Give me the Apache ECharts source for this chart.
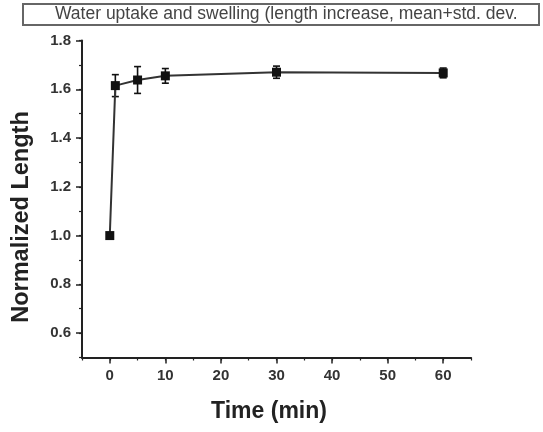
<!DOCTYPE html>
<html>
<head>
<meta charset="utf-8">
<script src="https://cdn.jsdelivr.net/npm/echarts@6/dist/echarts.min.js"></script>
<style>html,body{margin:0;padding:0;background:#fff}#c{width:543px;height:432px}</style>
</head>
<body>
<div id="c"></div>
<script>
const titleText = 'Water uptake and swelling (length increase, mean+std. dev.';
const xTitle = 'Time (min)';
const yTitle = 'Normalized Length';
const timeMin = [0, 1, 5, 10, 30, 60];
const lengthMean = [1.0, 1.615, 1.638, 1.655, 1.670, 1.667];
const lengthSd = [0, 0.045, 0.055, 0.03, 0.025, 0.02];
const xTickLabels = [0, 10, 20, 30, 40, 50, 60];
const yTickLabels = [0.6, 0.8, 1.0, 1.2, 1.4, 1.6, 1.8];

const chart = echarts.init(document.getElementById('c'), null, {renderer: 'canvas'});
const lineData = timeMin.map((t, i) => [t, lengthMean[i]]);
const errData = timeMin.map((t, i) => [t, lengthMean[i], lengthSd[i]]);
const font = 'Liberation Sans, Arial, Helvetica, sans-serif';
const axisColor = '#222';

chart.setOption({
  animation: false,
  backgroundColor: '#fff',
  grid: {left: 82, right: 72, top: 40.5, bottom: 74.5, containLabel: false, outerBoundsMode: 'none'},
  xAxis: [{
    type: 'value', min: -5, max: 65, interval: 5,
    axisLine: {show: true, onZero: false, lineStyle: {color: axisColor, width: 2}},
    axisTick: {show: true, length: 6, customValues: xTickLabels, lineStyle: {color: axisColor, width: 1.5}},
    axisLabel: {customValues: xTickLabels, fontSize: 15, fontWeight: 'bold', color: '#333', margin: 11, fontFamily: font},
    splitLine: {show: false}
  }, {
    type: 'value', min: -5, max: 65, interval: 5, position: 'bottom', offset: 0,
    axisLine: {show: false, onZero: false},
    axisTick: {show: true, length: 3, lineStyle: {color: axisColor, width: 1.2}},
    axisLabel: {show: false},
    splitLine: {show: false}
  }],
  yAxis: [{
    type: 'value', min: 0.5, max: 1.8, interval: 0.1,
    axisLine: {show: true, onZero: false, lineStyle: {color: axisColor, width: 2}},
    axisTick: {show: true, length: 6, customValues: yTickLabels, lineStyle: {color: axisColor, width: 1.5}},
    axisLabel: {customValues: yTickLabels, formatter: v => Number(v).toFixed(1), fontSize: 15, fontWeight: 'bold', color: '#333', margin: 11, fontFamily: font},
    splitLine: {show: false}
  }, {
    type: 'value', min: 0.5, max: 1.8, interval: 0.1, position: 'left', offset: 0,
    axisLine: {show: false, onZero: false},
    axisTick: {show: true, length: 3, lineStyle: {color: axisColor, width: 1.2}},
    axisLabel: {show: false},
    splitLine: {show: false}
  }],
  series: [{
    type: 'custom',
    xAxisIndex: 0, yAxisIndex: 0,
    z: 2,
    data: errData,
    renderItem: function (params, api) {
      const x = api.value(0), y = api.value(1), e = api.value(2);
      if (!e) return null;
      const top = api.coord([x, y + e]);
      const bot = api.coord([x, y - e]);
      const cap = 3.5;
      const st = {stroke: '#111', lineWidth: 1.6};
      return {type: 'group', children: [
        {type: 'line', shape: {x1: top[0], y1: top[1], x2: bot[0], y2: bot[1]}, style: st},
        {type: 'line', shape: {x1: top[0] - cap, y1: top[1], x2: top[0] + cap, y2: top[1]}, style: st},
        {type: 'line', shape: {x1: bot[0] - cap, y1: bot[1], x2: bot[0] + cap, y2: bot[1]}, style: st}
      ]};
    }
  }, {
    type: 'line',
    xAxisIndex: 0, yAxisIndex: 0,
    z: 3,
    data: lineData,
    symbol: 'rect', symbolSize: 9, showSymbol: true,
    lineStyle: {color: '#333', width: 2},
    itemStyle: {color: '#111', borderWidth: 0}
  }],
  graphic: [{
    type: 'rect', left: 22, top: 3, z: 10,
    shape: {width: 516, height: 21},
    style: {fill: '#fff', stroke: '#666', lineWidth: 2}
  }, {
    type: 'text', x: 55, y: 14, z: 11,
    style: {text: titleText, font: '17.5px ' + font, fill: '#444', verticalAlign: 'middle', textAlign: 'left'}
  }, {
    type: 'text', x: 269, y: 412, z: 11,
    style: {text: xTitle, font: 'bold 23px ' + font, fill: '#222', verticalAlign: 'middle', textAlign: 'center'}
  }, {
    type: 'text', x: 22, y: 217, z: 11, rotation: Math.PI / 2,
    style: {text: yTitle, font: 'bold 23.5px ' + font, fill: '#222', verticalAlign: 'middle', textAlign: 'center'}
  }]
});
</script>
</body>
</html>
